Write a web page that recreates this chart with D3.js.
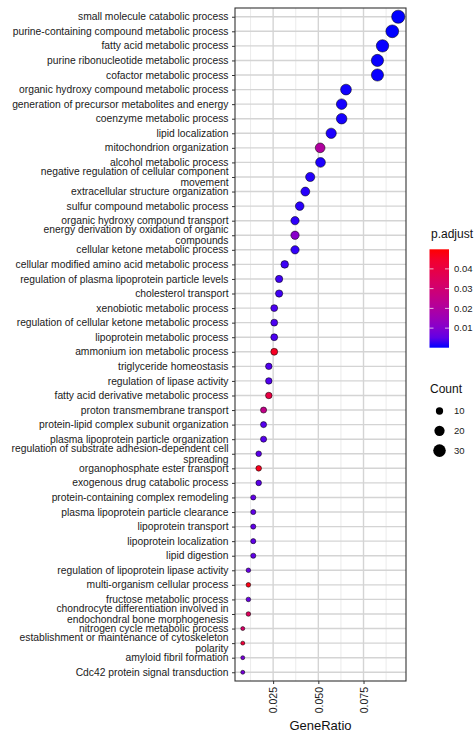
<!DOCTYPE html>
<html>
<head>
<meta charset="utf-8">
<script src="https://cdn.jsdelivr.net/npm/d3@7"></script>
<style>
  body { margin: 0; background: #fff; }
  text { font-family: "Liberation Sans", Arial, sans-serif; }
</style>
</head>
<body>
<svg width="475" height="736"></svg>
<script>
// GO terms, top to bottom (line breaks as wrapped in the original)
var terms = [
  "small molecule catabolic process",
  "purine-containing compound metabolic process",
  "fatty acid metabolic process",
  "purine ribonucleotide metabolic process",
  "cofactor metabolic process",
  "organic hydroxy compound metabolic process",
  "generation of precursor metabolites and energy",
  "coenzyme metabolic process",
  "lipid localization",
  "mitochondrion organization",
  "alcohol metabolic process",
  "negative regulation of cellular component\nmovement",
  "extracellular structure organization",
  "sulfur compound metabolic process",
  "organic hydroxy compound transport",
  "energy derivation by oxidation of organic\ncompounds",
  "cellular ketone metabolic process",
  "cellular modified amino acid metabolic process",
  "regulation of plasma lipoprotein particle levels",
  "cholesterol transport",
  "xenobiotic metabolic process",
  "regulation of cellular ketone metabolic process",
  "lipoprotein metabolic process",
  "ammonium ion metabolic process",
  "triglyceride homeostasis",
  "regulation of lipase activity",
  "fatty acid derivative metabolic process",
  "proton transmembrane transport",
  "protein-lipid complex subunit organization",
  "plasma lipoprotein particle organization",
  "regulation of substrate adhesion-dependent cell\nspreading",
  "organophosphate ester transport",
  "exogenous drug catabolic process",
  "protein-containing complex remodeling",
  "plasma lipoprotein particle clearance",
  "lipoprotein transport",
  "lipoprotein localization",
  "lipid digestion",
  "regulation of lipoprotein lipase activity",
  "multi-organism cellular process",
  "fructose metabolic process",
  "chondrocyte differentiation involved in\nendochondral bone morphogenesis",
  "nitrogen cycle metabolic process",
  "establishment or maintenance of cytoskeleton\npolarity",
  "amyloid fibril formation",
  "Cdc42 protein signal transduction"
]

var geneRatio = [
  0.0942, 0.0909, 0.0855, 0.0827, 0.0827, 0.0653, 0.0629, 0.0629, 0.0571, 0.0510,
  0.0512, 0.0455, 0.0428, 0.0397, 0.0371, 0.0371, 0.0371, 0.0314, 0.0283, 0.0283,
  0.0256, 0.0256, 0.0256, 0.0256, 0.0226, 0.0226, 0.0226, 0.0197, 0.0197, 0.0197,
  0.0170, 0.0170, 0.0170, 0.0140, 0.0140, 0.0140, 0.0140, 0.0140, 0.0113, 0.0113,
  0.0113, 0.0113, 0.0082, 0.0082, 0.0082, 0.0082
]

var geneCount = [
  33, 31, 29, 28, 28, 22, 21, 21, 20, 18,
  18, 16, 15, 14, 13, 13, 13, 11, 10, 10,
  9, 9, 9, 9, 8, 8, 8, 7, 7, 7,
  6, 6, 6, 5, 5, 5, 5, 5, 4, 4,
  4, 4, 3, 3, 3, 3
]

var pAdjust = [
  0.0001, 0.0001, 0.0002, 0.0002, 0.0002, 0.0003, 0.0004, 0.0004, 0.0006, 0.0200,
  0.0006, 0.0008, 0.0009, 0.0010, 0.0012, 0.0110, 0.0014, 0.0020, 0.0022, 0.0022,
  0.0030, 0.0030, 0.0030, 0.0460, 0.0035, 0.0035, 0.0400, 0.0250, 0.0040, 0.0040,
  0.0045, 0.0470, 0.0045, 0.0050, 0.0050, 0.0050, 0.0050, 0.0050, 0.0060, 0.0480,
  0.0060, 0.0350, 0.0320, 0.0420, 0.0080, 0.0080
]

var xTicks = [0.025, 0.050, 0.075]
var xMinor = [0.0125, 0.0375, 0.0625, 0.0875]
var colorTicks = [0.01, 0.02, 0.03, 0.04]
var sizeBreaks = [10, 20, 30]

var data = terms.map(function(t, i) {
  return { term: t, ratio: geneRatio[i], count: geneCount[i], p: pAdjust[i] }
})

var svg = d3.select("svg"),
    panel = {left: 235, right: 406, top: 8, bottom: 681}

// ggplot style 5% expansion on the continuous axis
var xExt = d3.extent(geneRatio), xPad = (xExt[1] - xExt[0]) * 0.05
var x = d3.scaleLinear()
    .domain([xExt[0] - xPad, xExt[1] + xPad])
    .range([panel.left, panel.right])

var y = d3.scalePoint()
    .domain(terms)
    .range([panel.top, panel.bottom])
    .padding(0.6)

var pExt = [0.0001, 0.0499]
var color = d3.scaleLinear()
    .domain(pExt)
    .range(["blue", "red"])
    .interpolate(d3.interpolateLab)

var r = d3.scaleSqrt()
    .domain([0, 32])
    .range([0, 6.5])

// panel + grid
svg.append("rect")
    .attr("x", panel.left).attr("y", panel.top)
    .attr("width", panel.right - panel.left)
    .attr("height", panel.bottom - panel.top)
    .attr("fill", "#fff")

var grid = svg.append("g")
grid.selectAll(".minor")
  .data(xMinor)
  .enter().append("line")
    .attr("x1", function(d) { return x(d) }).attr("x2", function(d) { return x(d) })
    .attr("y1", panel.top).attr("y2", panel.bottom)
    .attr("stroke", "#e6e6e6").attr("stroke-width", 0.8)
grid.selectAll(".major")
  .data(xTicks)
  .enter().append("line")
    .attr("x1", function(d) { return x(d) }).attr("x2", function(d) { return x(d) })
    .attr("y1", panel.top).attr("y2", panel.bottom)
    .attr("stroke", "#d4d4d4").attr("stroke-width", 1.4)
grid.selectAll(".hmajor")
  .data(terms)
  .enter().append("line")
    .attr("x1", panel.left).attr("x2", panel.right)
    .attr("y1", function(d) { return y(d) }).attr("y2", function(d) { return y(d) })
    .attr("stroke", "#d4d4d4").attr("stroke-width", 1.4)

// points
svg.append("g")
  .selectAll("circle")
  .data(data)
  .enter().append("circle")
    .attr("cx", function(d) { return x(d.ratio) })
    .attr("cy", function(d) { return y(d.term) })
    .attr("r", function(d) { return r(d.count) })
    .attr("fill", function(d) { return color(d.p) })
    .attr("stroke", "#000").attr("stroke-opacity", 0.6).attr("stroke-width", 0.9)

svg.append("rect")
    .attr("x", panel.left).attr("y", panel.top)
    .attr("width", panel.right - panel.left)
    .attr("height", panel.bottom - panel.top)
    .attr("fill", "none").attr("stroke", "#333").attr("stroke-width", 1.1)

// y axis
var yAxis = svg.append("g")
    .attr("transform", "translate(" + panel.left + ",0)")
    .call(d3.axisLeft(y).tickSize(3).tickPadding(3).tickFormat(""))
yAxis.select(".domain").remove()
yAxis.selectAll(".tick line").attr("stroke", "#333")

svg.append("g")
  .selectAll("text")
  .data(terms)
  .enter().append("text")
    .attr("x", panel.left - 6.5)
    .attr("text-anchor", "end")
    .attr("font-size", "10.3px")
    .attr("fill", "#1a1a1a")
    .each(function(d) {
      var lines = d.split("\n"), lh = 10.8
      var y0 = y(d) - (lines.length - 1) * lh / 2
      d3.select(this).selectAll("tspan")
        .data(lines)
        .enter().append("tspan")
          .attr("x", panel.left - 6.5)
          .attr("y", function(l, i) { return y0 + i * lh })
          .attr("dy", "0.35em")
          .text(function(l) { return l })
    })

// x axis
var xAxis = svg.append("g")
    .attr("transform", "translate(0," + panel.bottom + ")")
    .call(d3.axisBottom(x).tickValues(xTicks).tickSize(3).tickFormat(d3.format(".3f")))
xAxis.select(".domain").remove()
xAxis.selectAll(".tick line").attr("stroke", "#333")
xAxis.selectAll(".tick text")
    .attr("font-size", "10.5px")
    .attr("fill", "#1a1a1a")
    .attr("text-anchor", "end")
    .attr("transform", "rotate(-90)")
    .attr("x", -6).attr("y", 0).attr("dy", "0.35em")

svg.append("text")
    .attr("x", (panel.left + panel.right) / 2)
    .attr("y", 730)
    .attr("text-anchor", "middle")
    .attr("font-size", "13px")
    .attr("fill", "#111")
    .text("GeneRatio")

// colour legend
var bar = {x: 429.5, w: 19.5, top: 249.3, bottom: 347.7}
var cy = d3.scaleLinear().domain(pExt).range([bar.bottom, bar.top])

svg.append("text")
    .attr("x", 431).attr("y", 238)
    .attr("font-size", "12px").attr("fill", "#111")
    .text("p.adjust")

var grad = svg.append("defs").append("linearGradient")
    .attr("id", "pgrad")
    .attr("x1", 0).attr("y1", 1).attr("x2", 0).attr("y2", 0)
grad.selectAll("stop")
  .data(d3.range(0, 1.0001, 0.1))
  .enter().append("stop")
    .attr("offset", function(d) { return d })
    .attr("stop-color", function(d) { return color(pExt[0] + d * (pExt[1] - pExt[0])) })

svg.append("rect")
    .attr("x", bar.x).attr("y", bar.top)
    .attr("width", bar.w).attr("height", bar.bottom - bar.top)
    .attr("fill", "url(#pgrad)")

var cTicks = svg.append("g")
cTicks.selectAll(".l")
  .data(colorTicks)
  .enter().append("line")
    .attr("x1", bar.x).attr("x2", bar.x + 4)
    .attr("y1", function(d) { return cy(d) }).attr("y2", function(d) { return cy(d) })
    .attr("stroke", "#fff").attr("stroke-opacity", 0.7)
cTicks.selectAll(".r")
  .data(colorTicks)
  .enter().append("line")
    .attr("x1", bar.x + bar.w - 4).attr("x2", bar.x + bar.w)
    .attr("y1", function(d) { return cy(d) }).attr("y2", function(d) { return cy(d) })
    .attr("stroke", "#fff").attr("stroke-opacity", 0.7)
cTicks.selectAll("text")
  .data(colorTicks)
  .enter().append("text")
    .attr("x", 454).attr("y", function(d) { return cy(d) })
    .attr("dy", "0.35em")
    .attr("font-size", "9.5px").attr("fill", "#1a1a1a")
    .text(function(d) { return d3.format(".2f")(d) })

// size legend
svg.append("text")
    .attr("x", 430).attr("y", 393)
    .attr("font-size", "12px").attr("fill", "#111")
    .text("Count")

var sizeKeys = svg.append("g")
  .selectAll("g")
  .data(sizeBreaks)
  .enter().append("g")
    .attr("transform", function(d, i) { return "translate(0," + (411 + i * 19.8) + ")" })

sizeKeys.append("circle")
    .attr("cx", 439.5)
    .attr("r", function(d) { return r(d) })
    .attr("fill", "#000")

sizeKeys.append("text")
    .attr("x", 454).attr("dy", "0.35em")
    .attr("font-size", "9.5px").attr("fill", "#1a1a1a")
    .text(function(d) { return d })
</script>
</body>
</html>
